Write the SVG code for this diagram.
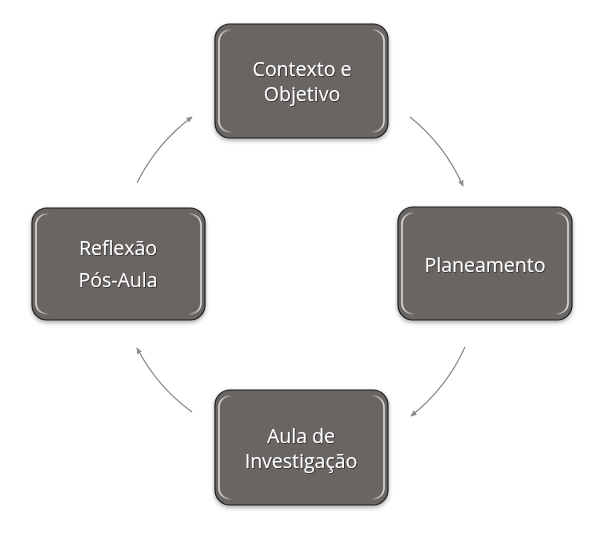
<svg xmlns="http://www.w3.org/2000/svg" width="607" height="533" viewBox="0 0 607 533">
<defs>
<filter id="sh" x="-10%" y="-10%" width="120%" height="125%">
<feDropShadow dx="0" dy="2" stdDeviation="2" flood-color="#000" flood-opacity="0.35"/>
</filter>
<filter id="tsh" x="-10%" y="-20%" width="120%" height="140%">
<feDropShadow dx="0.8" dy="0.8" stdDeviation="0.6" flood-color="#000" flood-opacity="0.6"/>
</filter>
<linearGradient id="edge" x1="0" y1="0" x2="1" y2="0">
<stop offset="0" stop-color="#e8e8e8" stop-opacity="0.9"/>
<stop offset="0.08" stop-color="#ffffff" stop-opacity="0"/>
<stop offset="0.92" stop-color="#ffffff" stop-opacity="0"/>
<stop offset="1" stop-color="#e8e8e8" stop-opacity="0.9"/>
</linearGradient>
<marker id="ah" viewBox="0 0 10 10" refX="8" refY="5" markerWidth="7" markerHeight="7" orient="auto" markerUnits="userSpaceOnUse">
<path d="M0,1 L9,5 L0,9 Z" fill="#8c8c8c"/>
</marker>
</defs>
<style>
.box{fill:#696564;stroke:#1e1e1e;stroke-width:1.2}
.hl{fill:none;stroke:url(#edge);stroke-width:1.6}
.lbl{font-family:"Open Sans","Noto Sans","DejaVu Sans",sans-serif;font-size:19.5px;fill:#ffffff;text-anchor:middle;filter:url(#tsh)}
.arc{fill:none;stroke:#8c8c8c;stroke-width:1.3;marker-end:url(#ah)}
</style>
<g id="connectors">
<path class="arc" d="M410,117 A183,183 0 0 1 463,186"/>
<path class="arc" d="M465,347 A183,183 0 0 1 411,416"/>
<path class="arc" d="M192,412 A183,183 0 0 1 137,348"/>
<path class="arc" d="M137,183 A183,183 0 0 1 192,117"/>
</g>
<g id="n1">
<rect class="box" x="215" y="24" width="173" height="114" rx="15" filter="url(#sh)"/>
<rect class="hl" x="219" y="30" width="165" height="102" rx="11"/>
<text class="lbl" x="302" y="76">Contexto e</text>
<text class="lbl" x="302" y="101">Objetivo</text>
</g>
<g id="n2">
<rect class="box" x="398" y="207" width="174" height="113" rx="15" filter="url(#sh)"/>
<rect class="hl" x="402" y="213" width="166" height="101" rx="11"/>
<text class="lbl" x="485" y="272">Planeamento</text>
</g>
<g id="n3">
<rect class="box" x="215" y="390" width="173" height="115" rx="15" filter="url(#sh)"/>
<rect class="hl" x="219" y="396" width="165" height="103" rx="11"/>
<text class="lbl" x="301" y="443">Aula de</text>
<text class="lbl" x="301" y="468">Investigação</text>
</g>
<g id="n4">
<rect class="box" x="32" y="208" width="173" height="112" rx="15" filter="url(#sh)"/>
<rect class="hl" x="36" y="214" width="165" height="100" rx="11"/>
<text class="lbl" x="118" y="255">Reflexão</text>
<text class="lbl" x="118" y="287">Pós-Aula</text>
</g>
</svg>
